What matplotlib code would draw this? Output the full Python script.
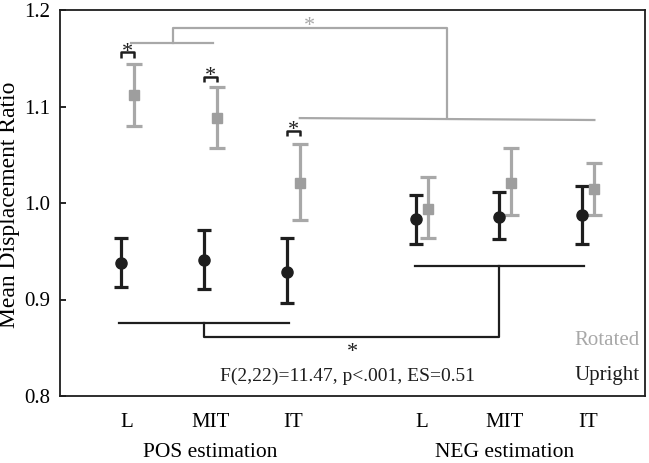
import matplotlib
matplotlib.use("Agg")
import matplotlib.pyplot as plt
import numpy as np

plt.rcParams['font.family'] = ['Liberation Serif', 'DejaVu Serif']

categories = ["L", "MIT", "IT", "L", "MIT", "IT"]
group_labels = ["POS estimation", "NEG estimation"]
positions = [0, 1, 2, 3.55, 4.55, 5.55]

upright_mean = [0.938, 0.941, 0.929, 0.983, 0.986, 0.988]
upright_low = [0.913, 0.911, 0.896, 0.958, 0.963, 0.958]
upright_high = [0.964, 0.972, 0.964, 1.008, 1.011, 1.018]

rotated_mean = [1.112, 1.088, 1.021, 0.994, 1.021, 1.015]
rotated_low = [1.080, 1.057, 0.982, 0.964, 0.988, 0.988]
rotated_high = [1.144, 1.120, 1.061, 1.027, 1.057, 1.041]

stats_text = "F(2,22)=11.47, p<.001, ES=0.51"

BLACK = "#1e1e1e"
GRAY = "#a8a8a8"
GRAYM = "#9e9e9e"

fig = plt.figure(figsize=(6.49, 4.63), dpi=100)
ax = fig.add_axes([60/649, 1-396/463, 585/649, 386/463])

pos = np.array(positions)
xu = pos - 0.07
xr = pos + 0.08

um = np.array(upright_mean)
rm = np.array(rotated_mean)
ax.errorbar(xu, um, yerr=[um - np.array(upright_low), np.array(upright_high) - um],
            fmt='o', color=BLACK, ms=8, elinewidth=2.3, capsize=5, capthick=2.3, zorder=3)
ax.errorbar(xr, rm, yerr=[rm - np.array(rotated_low), np.array(rotated_high) - rm],
            fmt='s', color=GRAY, mfc=GRAYM, mec=GRAYM, ms=7.5, elinewidth=2.3, capsize=5.5,
            capthick=2.3, zorder=3)

AST = 16
# small black brackets between upright/rotated pairs (POS)
for i, yb in zip(range(3), [1.156, 1.131, 1.075]):
    ax.plot([xu[i], xu[i], xr[i], xr[i]], [yb - 0.006, yb, yb, yb - 0.006],
            color=BLACK, lw=1.8, solid_capstyle='butt')
    ax.text((xu[i] + xr[i]) / 2, yb - 0.005, "*", ha='center', va='baseline', fontsize=AST, color=BLACK)

# gray comparison bracket (rotated)
ax.plot([xr[0] - 0.03, 1.03], [1.166, 1.166], color=GRAY, lw=1.6)
ax.plot([0.55, 0.55, 3.85, 3.85], [1.166, 1.181, 1.181, 1.088], color=GRAY, lw=1.6)
ax.plot([xr[2], xr[5]], [1.088, 1.086], color=GRAY, lw=1.6)
ax.text(2.2, 1.178, "*", ha='center', va='baseline', fontsize=AST, color=GRAY)

# black comparison bracket (upright)
ax.plot([xu[0] - 0.03, 1.95], [0.876, 0.876], color=BLACK, lw=1.6)
ax.plot([0.93, 0.93, 4.48, 4.48], [0.876, 0.861, 0.861, 0.935], color=BLACK, lw=1.6)
ax.plot([xu[3] - 0.01, xu[5] + 0.02], [0.935, 0.935], color=BLACK, lw=1.6)
ax.text(2.72, 0.840, "*", ha='center', va='baseline', fontsize=AST, color=BLACK)

ax.text(2.65, 0.82, stats_text, ha='center', va='center', fontsize=14, color=BLACK)
ax.text(0.99, 0.145, "Rotated", transform=ax.transAxes, ha='right', va='center', fontsize=15, color=GRAY)
ax.text(0.99, 0.052, "Upright", transform=ax.transAxes, ha='right', va='center', fontsize=15, color=BLACK)

ax.set_xlim(-0.81, 6.24)
ax.set_ylim(0.8, 1.2)
ax.set_yticks([0.8, 0.9, 1.0, 1.1, 1.2])
ax.set_yticklabels(["0.8", "0.9", "1.0", "1.1", "1.2"], fontsize=15)
ax.tick_params(axis='y', direction='in', length=4, width=1.2, pad=7)
ax.set_xticks(positions)
ax.set_xticklabels(categories, fontsize=15)
ax.tick_params(axis='x', length=0, pad=12)
for s in ax.spines.values():
    s.set_linewidth(1.3)
    s.set_color(BLACK)

ax.set_ylabel("Mean Displacement Ratio", fontsize=17)
ax.yaxis.set_label_coords(-0.069, 0.496)

for lbl, cx in zip(group_labels, [1.0, 4.55]):
    ax.text(cx, -0.122, lbl, transform=ax.get_xaxis_transform(), ha='center', va='top', fontsize=15.5)

fig.savefig("out.png", dpi=100)
